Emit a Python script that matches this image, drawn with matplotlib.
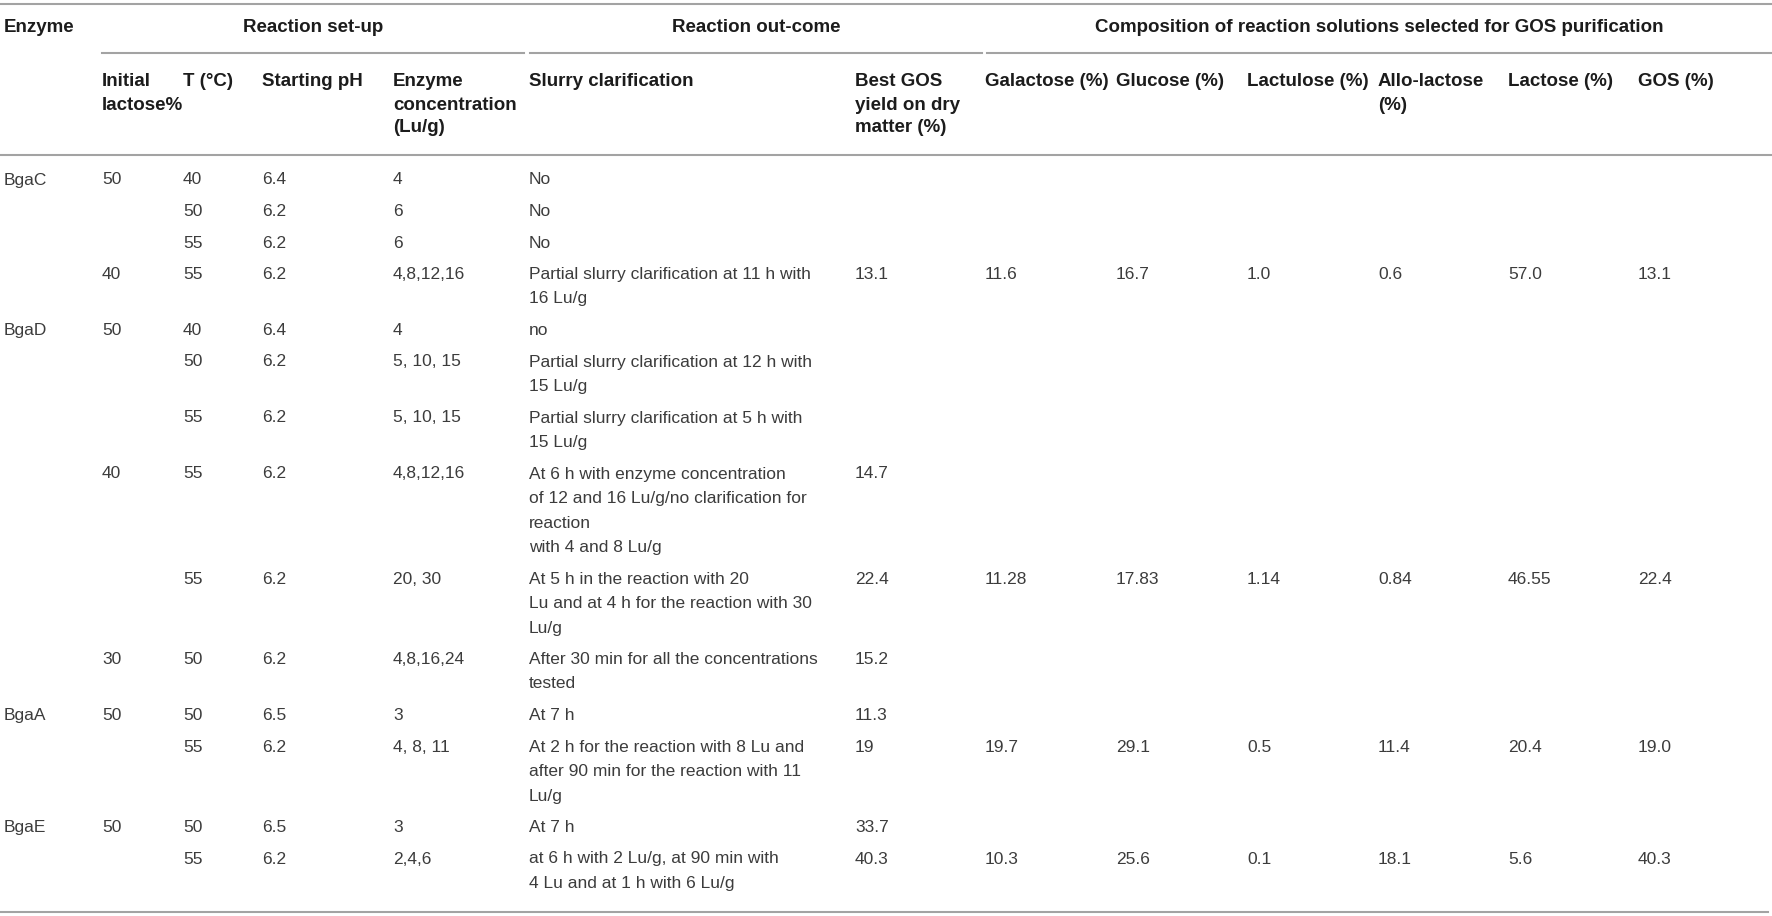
import matplotlib.pyplot as plt
from matplotlib.lines import Line2D

# table content
group_headers = ["Reaction set-up", "Reaction out-come",
                 "Composition of reaction solutions selected for GOS purification"]
col_headers = ["Enzyme", "Initial\nlactose%", "T (°C)", "Starting pH",
               "Enzyme\nconcentration\n(Lu/g)", "Slurry clarification",
               "Best GOS\nyield on dry\nmatter (%)", "Galactose (%)", "Glucose (%)",
               "Lactulose (%)", "Allo-lactose\n(%)", "Lactose (%)", "GOS (%)"]

enzyme = ["BgaC", "", "", "", "BgaD", "", "", "", "", "", "BgaA", "", "BgaE", ""]
initial_lactose = ["50", "", "", "40", "50", "", "", "40", "", "30", "50", "", "50", ""]
temperature = ["40", "50", "55", "55", "40", "50", "55", "55", "55", "50", "50", "55", "50", "55"]
starting_ph = ["6.4", "6.2", "6.2", "6.2", "6.4", "6.2", "6.2", "6.2", "6.2", "6.2", "6.5",
               "6.2", "6.5", "6.2"]
enzyme_conc = ["4", "6", "6", "4,8,12,16", "4", "5, 10, 15", "5, 10, 15", "4,8,12,16",
               "20, 30", "4,8,16,24", "3", "4, 8, 11", "3", "2,4,6"]
slurry = [
    "No", "No", "No",
    "Partial slurry clarification at 11 h with\n16 Lu/g",
    "no",
    "Partial slurry clarification at 12 h with\n15 Lu/g",
    "Partial slurry clarification at 5 h with\n15 Lu/g",
    "At 6 h with enzyme concentration\nof 12 and 16 Lu/g/no clarification for\nreaction\nwith 4 and 8 Lu/g",
    "At 5 h in the reaction with 20\nLu and at 4 h for the reaction with 30\nLu/g",
    "After 30 min for all the concentrations\ntested",
    "At 7 h",
    "At 2 h for the reaction with 8 Lu and\nafter 90 min for the reaction with 11\nLu/g",
    "At 7 h",
    "at 6 h with 2 Lu/g, at 90 min with\n4 Lu and at 1 h with 6 Lu/g",
]
best_gos = ["", "", "", "13.1", "", "", "", "14.7", "22.4", "15.2", "11.3", "19", "33.7", "40.3"]
galactose = ["", "", "", "11.6", "", "", "", "", "11.28", "", "", "19.7", "", "10.3"]
glucose = ["", "", "", "16.7", "", "", "", "", "17.83", "", "", "29.1", "", "25.6"]
lactulose = ["", "", "", "1.0", "", "", "", "", "1.14", "", "", "0.5", "", "0.1"]
allolactose = ["", "", "", "0.6", "", "", "", "", "0.84", "", "", "11.4", "", "18.1"]
lactose = ["", "", "", "57.0", "", "", "", "", "46.55", "", "", "20.4", "", "5.6"]
gos = ["", "", "", "13.1", "", "", "", "", "22.4", "", "", "19.0", "", "40.3"]

columns = [enzyme, initial_lactose, temperature, starting_ph, enzyme_conc, slurry,
           best_gos, galactose, glucose, lactulose, allolactose, lactose, gos]

# layout (pixels)
W, H = 1772, 916
col_x = [4, 102, 183, 262, 393, 529, 855, 985, 1116, 1247, 1378, 1508, 1638]
group_spans = [(102, 524), (530, 982), (987, W)]
line_h = 24.5
row_pad = 7
head_line_h = 23

fig = plt.figure(figsize=(W / 100, H / 100), dpi=100)
ax = fig.add_axes([0, 0, 1, 1])
ax.set_xlim(0, W)
ax.set_ylim(H, 0)
ax.axis("off")

font = "Liberation Sans"
rule_color = "#a3a3a3"
head_color = "#1c1c1c"
body_color = "#3c3c3c"


def hline(y, x0, x1):
    ax.add_line(Line2D([x0, x1], [y, y], color=rule_color, lw=1.5))


hline(4, 0, W)
for (x0, x1) in group_spans:
    hline(53, x0, x1)
hline(155, 0, W)

# group headers
ax.text(col_x[0], 27, col_headers[0], fontsize=13.5, fontweight="bold", family=font,
        color=head_color, va="center", ha="left")
for label, (x0, x1) in zip(group_headers, group_spans):
    ax.text((x0 + x1) / 2, 27, label, fontsize=13.5, fontweight="bold", family=font,
            color=head_color, va="center", ha="center")

# column headers
for x, label in zip(col_x[1:], col_headers[1:]):
    for i, part in enumerate(label.split("\n")):
        ax.text(x, 82 + i * head_line_h, part, fontsize=13.5, fontweight="bold",
                family=font, color=head_color, va="center", ha="left")

# body
y = 180
for r in range(len(enzyme)):
    n_lines = max(len(col[r].split("\n")) for col in columns)
    for x, col in zip(col_x, columns):
        for i, part in enumerate(col[r].split("\n")):
            if part:
                ax.text(x, y + i * line_h, part, fontsize=12.5, family=font,
                        color=body_color, va="center", ha="left")
    y += n_lines * line_h + row_pad

hline(912, 0, 1768)

fig.savefig("out.png", dpi=100)
